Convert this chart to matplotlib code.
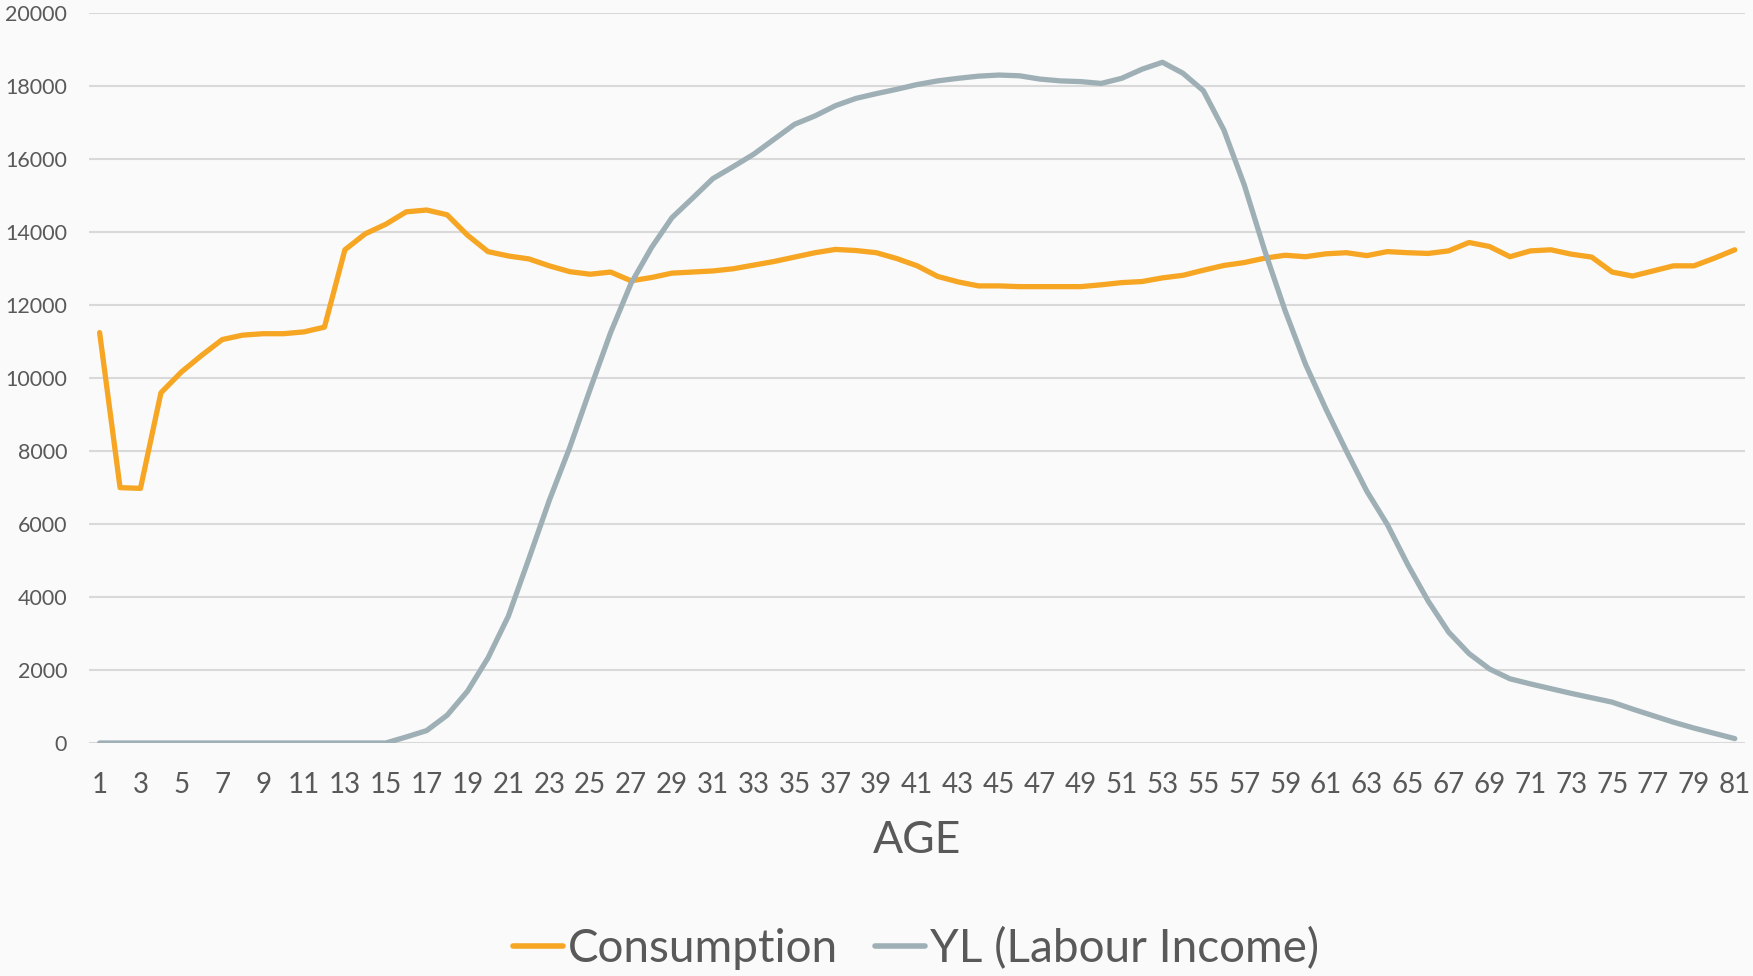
import matplotlib
matplotlib.use("Agg")
import matplotlib.pyplot as plt

plt.rcParams['font.family'] = ['Lato', 'DejaVu Sans']

ages = list(range(1, 82))
age_tick_labels = [str(a) for a in range(1, 82, 2)]
y_ticks = [0, 2000, 4000, 6000, 8000, 10000, 12000, 14000, 16000, 18000, 20000]

consumption = [
    11250, 7000, 6980, 9600, 10170, 10630, 11060, 11180, 11220, 11220,
    11270, 11400, 13520, 13960, 14220, 14560, 14610, 14480, 13920, 13470,
    13350, 13270, 13080, 12920, 12850, 12910, 12670, 12760, 12880, 12910,
    12940, 13000, 13100, 13200, 13320, 13440, 13530, 13500, 13440, 13280,
    13080, 12790, 12640, 12530, 12530, 12510, 12510, 12510, 12510, 12560,
    12620, 12650, 12750, 12820, 12960, 13090, 13170, 13290, 13370, 13330,
    13410, 13440, 13360, 13470, 13440, 13420, 13490, 13720, 13610, 13330,
    13490, 13520, 13400, 13320, 12910, 12800, 12940, 13080, 13080, 13290,
    13520,
]

labour_income = [
    0, 0, 0, 0, 0, 0, 0, 0, 0, 0,
    0, 0, 0, 0, 0, 165, 340, 760, 1420, 2330,
    3480, 5050, 6650, 8100, 9700, 11250, 12600, 13580, 14400, 14930,
    15470, 15800, 16140, 16550, 16960, 17190, 17470, 17670, 17800, 17920,
    18050, 18150, 18220, 18280, 18310, 18290, 18200, 18150, 18130, 18080,
    18220, 18470, 18660, 18360, 17880, 16810, 15300, 13500, 11850, 10380,
    9150, 8000, 6900, 5990, 4890, 3890, 3040, 2450, 2030, 1760,
    1620, 1490, 1360, 1240, 1120, 930, 750, 570, 410, 265,
    120,
]

series_names = ["Consumption", "YL (Labour Income)"]
orange = "#F6A623"
grey = "#9EB0B5"
text_color = "#595959"
bg = "#FAFAFA"

fig = plt.figure(figsize=(17.53, 9.76), dpi=100, facecolor=bg)
ax = fig.add_axes([89.4 / 1753, 1 - 743 / 976, (1745 - 89.4) / 1753, (743 - 13.4) / 976])
ax.set_facecolor(bg)

ax.plot(ages, consumption, color=orange, lw=3.8, solid_capstyle='round',
        solid_joinstyle='round', label=series_names[0], zorder=3)
ax.plot(ages, labour_income, color=grey, lw=3.8, solid_capstyle='round',
        solid_joinstyle='round', label=series_names[1], zorder=3)

ax.set_xlim(0.5, 81.5)
ax.set_ylim(0, 20000)
ax.set_yticks(y_ticks)
ax.set_yticklabels([str(v) for v in y_ticks])
ax.set_xticks(list(range(1, 82, 2)))
ax.set_xticklabels(age_tick_labels)

ax.grid(axis='y', color='#D9D9D9', lw=1.5, zorder=0)
ax.grid(axis='x', visible=False)
for s in ax.spines.values():
    s.set_visible(False)
ax.tick_params(axis='y', length=0, pad=16, labelsize=15.5, labelcolor=text_color)
ax.tick_params(axis='x', length=0, pad=21, labelsize=20, labelcolor=text_color)

ax.set_xlabel("AGE", fontsize=32, color=text_color, labelpad=16)

leg = fig.legend(loc='center', bbox_to_anchor=(916 / 1753, 1 - 949 / 976),
                 ncol=2, frameon=False, fontsize=33, handlelength=1.1,
                 handletextpad=0.1, columnspacing=0.8, labelcolor=text_color)
for line in leg.get_lines():
    line.set_linewidth(4.0)
    line.set_solid_capstyle('round')

fig.savefig("out.png", dpi=100, facecolor=bg)
